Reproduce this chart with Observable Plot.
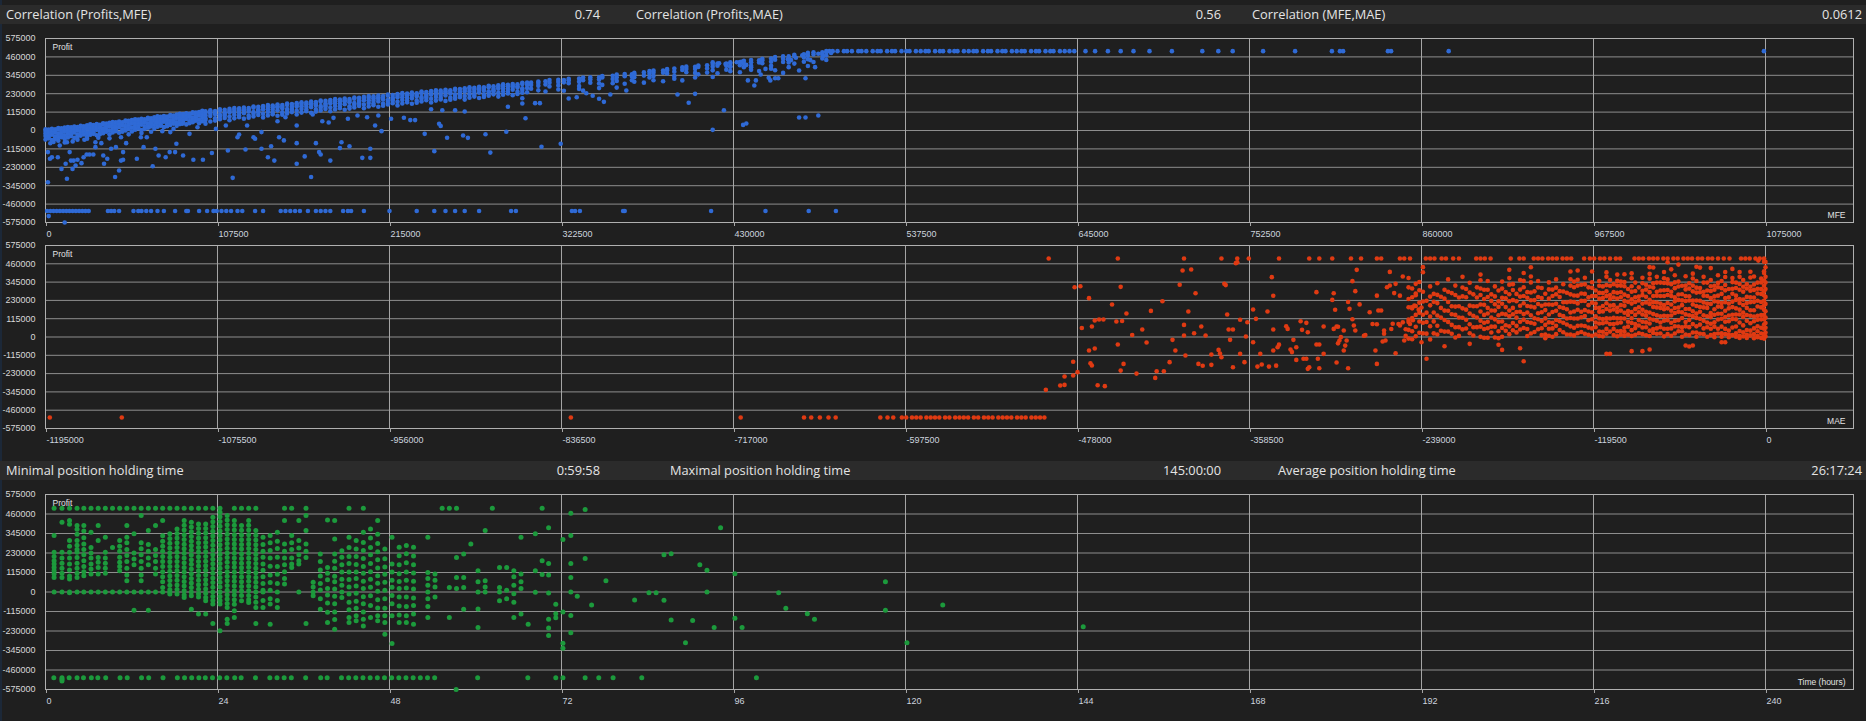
<!DOCTYPE html>
<html><head><meta charset="utf-8">
<script src="https://cdn.jsdelivr.net/npm/d3@7"></script>
<script src="https://cdn.jsdelivr.net/npm/@observablehq/plot@0.6"></script>
<style>
body{margin:0;background:#1f1f1f;}
#root{position:relative;width:1866px;height:721px;overflow:hidden;background:#1f1f1f;font-family:"Open Sans","Noto Sans",sans-serif;}
.bar{position:absolute;left:0;width:1866px;height:19px;background:#2b2b2b;color:#e4e4e4;font-size:12.8px;line-height:19px;}
.bar span{position:absolute;top:0;white-space:nowrap;}
.plot{position:absolute;left:0;}
.edge{position:absolute;left:0;top:0;width:2px;height:721px;background:#1c2838;}
</style></head><body><div id="root"></div>
<script>
// ---------- header texts ----------
const corrLabels = ["Correlation (Profits,MFE)", "Correlation (Profits,MAE)", "Correlation (MFE,MAE)"];
const corrValues = ["0.74", "0.56", "0.0612"];
const timeLabels = ["Minimal position holding time", "Maximal position holding time", "Average position holding time"];
const timeValues = ["0:59:58", "145:00:00", "26:17:24"];

// ---------- axis ticks ----------
const profitTicks = [-575000,-460000,-345000,-230000,-115000,0,115000,230000,345000,460000,575000];
const mfeTicks = [0,107500,215000,322500,430000,537500,645000,752500,860000,967500,1075000];
const maeTicks = [-1195000,-1075500,-956000,-836500,-717000,-597500,-478000,-358500,-239000,-119500,0];
const hourTicks = [0,24,48,72,96,120,144,168,192,216,240];

// ---------- Plot 1: MFE (thousands) vs Profit (thousands) ----------
// each column: [mfe, profit, profit, ...]
const mfeBandColumns = [
[0,8,-3,-18,-35,-57],[2,6,-5,-21,-38,-49],[4,10,-1,-9,-26,-60],[6,7,-4,-14,-39,-53],[8,15,7,-19,-30,-47],[10,13,-3,-12,-22,-38],
[12,18,7,-4,-30,-53],[14,22,11,-4,-21,-43],[16,20,9,-7,-24,-35],[18,24,13,5,-12,-46],[20,21,10,0,-25,-39],[22,30,22,-4,-15,-32],
[24,26,10,1,-9,-25],[26,33,22,11,-15,-38],[28,38,27,12,-5,-27],[30,34,23,7,-10,-21],[32,40,29,21,4,-30],[34,36,25,15,-10,-24],
[36,45,37,11,0,-17],[38,43,27,18,8,-8],[40,48,37,26,0,-23],[42,53,42,27,10,-12],[44,51,40,24,7,-4],[46,56,45,37,20,-14],
[48,52,41,31,6,-8],[50,62,54,28,17,0],[52,60,44,35,25,9],[54,65,54,43,17,-6],[56,70,59,44,27,5],[58,68,57,41,24,13],
[60,73,62,54,37,3],[62,70,59,49,24,10],[64,79,71,45,34,17],[66,77,61,52,42,26],[68,82,71,60,34,11],[70,88,77,62,45,23],
[72,85,74,58,41,30],[74,91,80,72,55,21],[76,87,76,66,41,27],[78,97,89,63,52,35],[80,94,78,69,59,43],[82,100,89,78,52,29],
[84,105,94,79,62,40],[86,103,92,76,59,48],[88,108,97,89,72,38],[90,105,94,84,59,45],[92,114,106,80,69,52],[94,112,96,87,77,61],
[96,116,105,94,68,45],[98,123,112,97,80,58],[100,120,109,93,76,65],[103,126,115,107,90,56],[106,122,111,101,76,62],[109,132,124,98,87,70],
[112,129,113,104,94,78],[115,135,124,113,87,64],[118,141,130,115,98,76],[121,138,127,111,94,83],[124,144,133,125,108,74],[127,140,129,119,94,80],
[130,150,142,116,105,88],[133,148,132,123,113,97],[136,153,142,131,105,82],[139,159,148,133,116,94],[142,156,145,129,112,101],[145,162,151,143,126,92],
[148,159,148,138,113,99],[151,168,160,134,123,106],[154,166,150,141,131,115],[157,171,160,149,123,100],[160,177,166,151,134,112],[163,175,164,148,131,120],
[166,181,170,162,145,111],[169,178,167,157,132,118],[172,187,179,153,142,125],[175,185,169,160,150,134],[178,191,180,169,143,120],[181,196,185,170,153,131],
[184,194,183,167,150,139],[187,200,189,181,164,130],[190,197,186,176,151,137],[193,206,198,172,161,144],[196,204,188,179,169,153],[199,210,199,188,162,139],
[202,215,204,189,172,150],[205,213,202,186,169,158],[208,218,207,199,182,148],[211,215,204,194,169,155],[214,225,217,191,180,163],[217,222,206,197,187,171],
[220,228,217,206,180,157],[223,234,223,208,191,169],[226,231,220,204,187,176],[229,237,226,218,201,167],[232,233,222,212,187,173],[235,243,235,209,198,181],
[238,240,224,215,205,189],[241,246,235,224,198,175],[244,252,241,226,209,187],[247,249,238,222,205,194],[250,255,244,236,219,185],[253,252,241,231,206,192],
[256,261,253,227,216,199],[259,259,243,234,224,208],[262,264,253,242,216,193],[265,270,259,244,227,205],[268,267,256,240,223,212],[271,273,262,254,237,203],
[274,270,259,249,224,210],[277,279,271,245,234,217],[280,277,261,252,242,226],[283,283,272,261,235,212],[286,288,277,262,245,223],[289,286,275,259,242,231],
[292,291,280,272,255,221],[295,288,277,267,242,228],[298,298,290,264,253,236],
[301,300,286,265,239],[303.5,299,285,261],[308,306,297,279,251],[312.5,308,288,244],[315,315,298,275],[320.5,317,303,282,256],
[324,315,301,248],[327,323,314,296],[333.5,324,304,278,260],[336,331,314,249],[340.5,333,319,298],[346,332,318,294,265],
[348,340,331,285],[354.5,342,322,296],[357,350,333,310,268],[362,353,339,292],[366.5,352,338,314],[368,360,351,333,305],
[374,363,343,299],[377.5,371,354,331],[380,375,361,340,314],[386,375,361,308],[388.5,384,375,357],[393,387,367,341,323],
[398,395,378,313],[400.5,399,385,364],[406,398,384,360,331],[408,406,397,351],[413.5,408,388,362],[417,416,399,376,334],
[420,419,405,358],[425.5,418,404,380],[428,426,417,399,371],[434,428,408,364],[436.5,436,419,396],[441,440,426,405,379],
[446,439,425,372],[448,448,439,421],[453.5,450,430,404,386],[456,459,442,377],[461,463,449,428],[464.5,463,449,425,396],
[468,473,464,418],[474,476,456,430],[476.5,485,468,445,403],[480,489,475,428],[485.5,488,474,450],[488,496,487,469,441]
];
const mfeScatter = [
[1.5,-135],[2.8,-177],[4,-167],[1.5,-323],[7.7,-167],[8.9,-94],[10,-42],[13.4,-73],[15.1,-135],[15.9,-188],[17.6,-188],[13.4,-302],
[10,-240],[12.6,-208],[16.9,-240],[18.8,-219],[20,-183],[22.5,-204],[23.8,-167],[25.7,-150],[27.5,-150],[29.9,-150],[24.3,-58],[28.2,-21],
[31.2,-73],[31.2,-104],[34.9,-79],[36.1,-156],[36.6,-208],[38.6,-177],[43.5,-291],[46,-250],[47.2,-188],[48.5,-183],[41,-114],[44,-104],
[48.5,-135],[50.4,-79],[47.2,-42],[57.1,-177],[61.3,-104],[63.3,-42],[67,-223],[68.7,-114],[70.7,-156],[75.1,-167],[77.6,-135],[81,-135],
[81.8,-83],[86,-156],[92.4,-183],[98.4,-183],[104,-141],[114,-125],[117,-296],[120,-42],[121,-25],[125,-119],[130,-42],[131,-52],
[135,-114],[139,-167],[141,-98],[143,-188],[146,-42],[149,-62],[157,-79],[157,-208],[162,-162],[166,-291],[169,-79],[171,-135],
[172,-150],[178,-188],[184,-110],[185,-73],[190,-98],[198,-171],[203,-171],[203,-114],[206,31],[210,-4],
[5,-72],[8,-64],[12,-75],[20,-58],[26,-51],[33,-45],[40,-49],[52,-24],[60,-16],[66,-8],[80,10],[95,20],[3,-80],[17,-68],
[36,-10],[43.5,21],[56,10],[59.6,-42],[64.5,21],[69.5,52],[73,-4],[78,-10],[85.5,42],[90,-21],[100,42],[106.5,10],
[112.7,31],[126,31],[135,-10],[145,58],[150,83],[157,31],[167,100],[173,58],[177,50],[180,79],[189,73],[195,94],[201,83],[208,94],
[216,73],[224,80],[228,65],[231,65],[237,-21],[241,133],[243,-129],[246,42],[247,28],[248,127],[251,-45],[256,127],[261,-31],[262,119],
[264,-46],[275,-23],[278,-138],[288,-8],[289,148],[300,77],[298,169],[298,202],[306,171],[309,171],[310,-102],[322,-83],[327,200],[332,208],
[338,233],[342,217],[346,198],[349,179],[353,225],[363,250],[395,225],[402,173],[406,229],[417,4],[424,127],[436,35],[438,44],[439,313],
[443,281],[444,313],[453,313],[456,327],[458,327],[471,81],[475,81],[483,94],
[417,427],[421,420],[425,415],[428,400],[432,427],[435,430],[438,410],[441,395],[447,350],[450,385],[452,330],[461,360],[464,445],[466,440],
[469,455],[471,375],[473,470],[475,327],[478,440],[481,396],[483,480],[486,465],[491,485],
[2,-535],[12,-575]
];
const mfeTopRow = [490,492,495,499,501,504,508,510,513,517,520,522,526,529,531,535,538,540,544,547,550,552,556,559,561,565,568,570,
574,577,580,582,586,589,591,595,598,600,604,607,610,612,616,619,621,625,628,630,634,637,640,643,650,656,664,672,680,690,704,
723,733,742,761,781,804,809,811,839,841,877,1074];
const mfeTopProfit = 496;
const mfeBottomRow = [1,3,5,7,9,11,13,15,17,19,21,23,25,27,39,41,43,46,55,58,60,63,66,70,74,81,88,89,96,101,105,107,110,113,116,
120,123,131,136,147,150,153,156,159,164,169,172,175,178,186,189,191,199,215,232,243,250,256,262,271,291,294,329,331,334,361,362,416,450,477,494];
const mfeBottomProfit = -503;

// ---------- Plot 2: MAE (thousands) vs Profit (thousands) ----------
const maeBottomRow = [-1192,-1142,-830,-712,-668,-663,-657,-651,-646,-615,-610,-606,-600,-597,-593,-590,-587,-583,-580,-577,-574,-570,
-567,-563,-560,-557,-554,-550,-547,-543,-540,-537,-533,-530,-527,-524,-520,-517,-514,-510,-507,-504,-501];
const maeBottomProfit = -506;
const maeTopRow = [-498,-450,-404,-378,-367,-359,-338,-317,-310,-301,-288,-281,-270,-267,-254,-251,-247,-236,-233,-230,-225,-222,-217,-213,
-201,-198,-195,-191,-177,-171,-168,-161,-158,-155,-151,-148,-145,-141,-138,-135,-126,-122,-119,-115,-112,-108,-104,-101,-91,-88,-85,-81,
-78,-75,-71,-68,-64,-61,-57,-54,-51,-47,-44,-40,-37,-33,-29,-25,-17,-14,-11,-7,-4,-1];
const maeTopProfit = 493;
const maeScatter = [
[-500,-332],[-490,-305],[-487,-301],[-487,-248],[-481,-242],[-478,-221],[-481,-156],[-470,-85],[-469,-165],[-468,-179],[-466,-72],[-464,-303],[-459,-309],
[-480,313],[-476,319],[-470,244],[-475,57],[-468,66],[-466,104],[-463,110],[-460,110],[-454,204],[-451,97],[-447,101],[-444,148],[-450,-47],
[-448,-211],[-446,-169],[-448,315],[-440,13],[-437,-230],[-433,47],[-430,-35],[-427,164],[-424,-257],[-423,-215],[-418,-215],[-419,225],[-414,-158],
[-412,-18],[-410,-85],[-407,328],[-405,418],[-399,424],[-404,76],[-404,9],[-403,-116],[-401,160],[-397,24],[-396,275],[-394,-169],[-391,-181],
[-392,66],[-389,9],[-385,-110],[-385,-175],[-380,-81],[-379,-104],[-378,-127],[-376,334],[-375,326],[-374,141],[-373,47],[-370,47],[-372,-18],
[-370,-190],[-368,464],[-365,108],[-365,-106],[-362,-158],[-361,3],[-360,93],[-356,173],[-354,114],[-356,-33],[-353,-186],[-350,-173],[-351,-106],
[-346,160],[-345,-186],[-340,-180],[-343,376],[-342,259],[-342,47],[-342,-85],[-339,-64],[-338,-48],[-333,68],[-332,51],[-330,-79],[-329,-95],
[-328,-18],[-326,-64],[-326,-144],[-323,99],[-319,89],[-322,45],[-318,30],[-321,-137],[-319,-137],[-318,-200],[-317,-190],[-312,282],[-312,-47],
[-310,-47],[-311,-137],[-310,-196],[-307,66],[-307,-106],[-301,233],[-300,275],[-300,51],[-299,171],[-298,66],[-297,64],[-298,-160],[-297,-40],
[-296,-22],[-295,-1],[-293,41],[-293,-85],[-292,-54],[-291,-22],[-290,220],[-290,-196],[-289,177],[-287,351],[-285,288],[-284,422],[-287,112],
[-286,72],[-285,41],[-282,205],[-279,8],[-278,12],[-275,156],[-273,82],[-270,80],[-271,-85],[-270,-169],[-270,260],[-269,167],[-267,167],
[-265,41],[-265,20],[-266,-28],[-264,-22],[-263,313],[-261,324],[-261,409],[-260,50],[-259,83],[-258,276],[-257,334],[-257,-102],[-255,82],
[-254,260],[-254,72],[-252,380],[-252,92],[-251,-22],[-250,7],[-250,49],[-248,95],[-247,82],[-246,187],[-245,105],[-244,197],[-243,334],
[-243,273],[-241,172],[-239,185],[-238,439],[-238,407],[-239,-33],[-367,470],[-5,480],[-1,473],
[-235.5,-137],[-223,-58],[-205.5,-43],[-185.5,-49],[-183,-81],[-170.5,-71],[-168,-152],[-110.5,-106],[-108,-106],[-93,-89],[-85.5,-89],
[-80.5,-79],[-68,470],[-65.5,425],[-60.5,455],[-55.5,-53],[-53,-60],[-50.5,-53],[-48,441],[-45.5,436],[-38,433],[-30.5,-33],[-28,-33]
];
// each column: [mae, profit, profit, ...]
const maeCloudColumns = [
[-248,371,312,239,187,109,45,-10],[-245.5,305,250,180,119,36,-14],[-243,262,195,139,64,5],[-240.5,346,294,216,152,97,27],
[-238,284,223,140,90,23],[-235.5,228,153,94,21],[-233,318,254,199,129,68,-15],[-230.5,271,221,154,98,23],
[-228,338,265,213,135,71,16],[-225.5,253,183,122,39],[-223,297,241,166,107,34],[-220.5,362,284,220,165,95,34],
[-218,276,193,143,76,20],[-215.5,323,264,191,139,61,-3],[-213,248,193,123,62,7],[-210.5,378,311,255,180,121,48],
[-208,302,250,172,108,53],[-205.5,341,280,197,147,80,24],[-203,268,193,134,61,9],[-200.5,312,248,193,123,62],
[-198,392,357,305,264,204,160,102,65,2],[-195.5,297,239,202,139,90,50,-5],[-193,352,297,251,183,148,96,55,-5],[-190.5,268,227,167,123,65,28],
[-188,318,255,206,166,111,65,-3],[-185.5,292,224,189,137,96,36,-8],[-183,348,304,246,209,146,97,57,2],[-180.5,283,243,188,142,74,39],
[-178,422,370,329,269,225,167,130,67,18],[-175.5,332,295,232,183,143,88,42],[-173,271,225,157,122,70,29],[-170.5,358,298,254,196,159,96,47],
[-168,402,353,313,258,212,144,109,57],[-165.5,282,247,195,154,94,50,6],[-163,438,380,343,280,231,191,136,90,22],[-160.5,287,232,186,118,83,31],
[-158,352,311,251,207,149,112,49],[-155.5,308,245,196,156,101,55,12],[-153,272,204,169,117,76,16,-8],[-150.5,343,299,241,204,141,92,52,8],
[-148,298,258,203,157,89,54,2],[-145.5,362,310,269,209,165,107,70,18],[-143,288,251,188,139,99,44],[-140.5,332,286,218,183,131,90,30],
[-138,278,218,174,116,79,16],[-135.5,412,363,323,268,222,154,119,67,15],[-133,348,313,261,220,160,116,58,10],[-130.5,418,360,323,260,211,171,116,70,24],
[-128,328,273,227,159,124,72,31],[-125.5,372,331,271,227,169,132,69,20],[-123,312,249,200,160,105,59,14],[-120.5,412,344,309,257,216,156,112,54,8],
[-118,292,258,210,183,130,91,61,16],[-115.5,352,322,277,241,183,158,116,85,35,6],[-113,318,276,245,195,161,113,86,33,4],
[-110.5,406,379,326,287,257,212,176,118,93,51,20],[-108,358,322,264,239,197,166,116,82,34],[-105.5,332,282,248,200,173,120,81,51,12],
[-103,392,353,323,278,242,184,159,117,86,36,5],[-100.5,348,323,281,250,200,166,118,91,38,14],[-98,394,346,319,266,227,197,152,116,58,33,8],
[-95.5,302,257,221,163,138,96,65,15],[-93,400,369,319,285,237,210,157,118,88,43,7],[-90.5,342,289,250,220,175,139,81,56,14],
[-88,312,254,229,187,156,106,72,24],[-85.5,372,338,290,263,210,171,141,96,60,18],[-83,328,298,253,217,159,134,92,61,11],
[-80.5,439,397,366,316,282,234,207,154,115,85,40,6],[-78,437,338,311,258,219,189,144,108,50,25],[-75.5,378,342,284,259,217,186,136,102,54,20],
[-73,342,292,258,210,183,130,91,61,22],[-70.5,408,369,339,294,258,200,175,133,102,52,4],[-68,362,337,295,264,214,180,132,105,52,18],
[-65.5,332,284,257,204,165,135,90,54,8],[-63,388,343,307,249,224,182,151,101,67,22],[-60.5,348,317,267,233,185,158,105,66,36],
[-58,322,269,230,200,155,119,61,36,2],[-55.5,382,324,299,257,226,176,142,94,67,15],[-53,338,304,256,229,176,137,107,62,12],
[-50.5,398,368,323,287,229,204,162,131,81,28],[-48,352,310,279,229,195,147,120,67,28,2],[-45.5,308,281,228,189,159,114,78,20],
[-43,378,342,284,259,217,186,136,102,54,18],[-40.5,342,292,258,210,183,130,91,61,2],[-38,358,319,289,244,208,150,125,83,52,12],
[-35.5,322,297,255,224,174,140,92,65,18,-2],[-33,388,340,313,260,221,191,146,110,52,22],[-30.5,352,307,271,213,188,146,115,65,24,2],
[-28,408,377,327,293,245,218,165,126,96,51,18],[-25.5,302,249,210,180,135,99,41,16,-2],[-23,428,370,345,303,272,222,188,140,113,60,12],
[-20.5,342,308,260,233,180,141,111,66,24,2],[-18,408,378,333,297,239,214,172,141,91,38,8,-6],[-15.5,358,316,285,235,201,153,126,73,30,4],
[-13,332,305,252,213,183,138,102,44,14,-6],[-10.5,410,374,316,291,249,218,168,134,86,40,10],[-8,380,330,296,248,221,168,129,99,54,18,-8],
[-5.5,342,303,273,228,192,134,109,67,36,6,-2],[-3,368,343,301,270,220,186,138,111,58,22,-6],
[-1,413,402,355,322,288,262,228,198,172,138,112,78,52,18,2,-10],[0,472,438,378,342,302,252,208,162,122,88,58,28,4]
];

// ---------- Plot 3: holding time (hours) vs Profit (thousands) ----------
// each column: [hours, profit, profit, ...]
const holdColumns = [
[1.2,494,333,234,210,185,165,145,126,106,86,0],
[2.3,494,411,234,200,170,140,110,86,0],
[3.35,494,421,400,303,270,234,200,165,130,95,76,0,-5],
[4.4,494,392,370,340,303,275,250,234,204,170,140,110,86,0],
[5.35,494,392,360,320,283,250,220,185,150,120,96,0],
[6.35,494,352,263,230,200,165,135,106,0],
[7.35,494,392,303,204,175,145,106,0],
[8.35,494,323,234,200,170,140,110,0],
[9.35,494,263,0],
[10.35,494,303,270,240,205,175,150,126,0],
[11.35,494,392,323,290,250,215,180,140,100,66,0],
[12.35,494,343,230,195,160,0,-107],
[13.35,494,451,290,255,220,180,140,100,66,0],
[14.35,494,362,280,240,200,160,0,-107],
[15.35,494,392,250,215,180,140,106,0],
[16.35,494,421,332,300,270,240,210,180,150,120,90,60,27,0],
[17.35,494,343,315,288,260,232,205,178,150,122,95,68,40,14,-12,0],
[18.35,494,372,345,318,290,262,235,208,180,152,125,98,70,42,15,-12],
[19.35,494,421,393,366,338,310,282,255,228,200,172,145,118,90,62,35,8,-18,-32],
[20.35,494,411,384,356,328,300,273,246,218,190,163,136,108,80,53,26,0,-22,-101],
[21.35,494,401,374,346,318,290,263,236,208,180,153,126,98,70,43,16,-10,-30,-130],
[22.35,494,401,374,348,320,292,265,238,210,182,155,128,100,72,45,18,-8,-32,-52,-130],
[23.35,494,441,414,386,358,330,303,276,248,220,193,166,138,110,83,56,28,0,-26,-50,-71,-186],
[24.35,494,471,444,416,388,360,333,306,278,250,223,196,168,140,113,86,58,30,0,-26,-50,-71,-229],
[25.35,451,424,396,368,340,313,286,258,230,203,176,148,120,93,66,38,10,-16,-42,-68,-91,-160,-186],
[26.35,494,421,394,366,338,310,283,256,228,200,173,146,118,90,63,36,8,-18,-45,-72,-111,-150],
[27.35,494,392,364,336,308,280,253,226,198,170,143,116,88,60,33,6,-20,-52],
[28.35,494,421,394,366,338,310,283,256,228,200,173,146,118,90,63,36,8,-20,-45,-62],
[29.35,494,362,334,306,278,250,223,196,168,140,113,86,58,30,0,-30,-60,-91,-186],
[30.35,323,280,240,205,165,128,90,50,10,0,-50,-91],
[31.35,333,290,245,200,152,100,56,10,-40,-71,-190],
[32.35,352,300,256,205,150,104,50,0,-50,-91],
[33.35,494,421,283,240,200,160,120,80,47],
[34.35,494,333,290,250,200,165,145],
[35.35,421,303,260,220,185,165,0],
[36.35,494,451,362,283,240,204,-186],
[37.35,57,30,0,-22],
[38.35,224,180,130,95,50,12,-40,-101],
[39.35,425,145,110,72,20,-18,-65,-120,-180],
[40.35,421,313,224,182,140,93,60,18,-25,-70,-118,-162,-219],
[41.35,244,205,160,118,75,40,0,-32],
[42.35,494,323,262,210,168,118,74,30,-12,-60,-104,-150,-180],
[43.35,303,254,210,162,118,80,35,-8,-55,-96,-140,-170],
[44.35,494,352,292,245,198,150,110,64,20,-28,-70,-118,-160,-200],
[45.35,372,318,262,220,168,120,75,28,-22,-80,-150],
[46.35,421,340,286,238,190,142,96,52,4,-46,-94,-140,-170],
[47.35,254,196,148,104,58,10,-40,-96,-140,-180,-249],
[48.35,323,165,118,70,28,-20,-70,-140,-304],
[49.35,264,214,160,108,62,20,-30,-82,-136,-180],
[50.35,274,226,172,118,70,24,-30,-86,-140,-180],
[51.35,264,212,160,112,64,18,-36,-80,-130,-190],
[53.35,323,115,80,40,0,-40,-85,-150],
[54.35,106,70,30,-30],
[55.35,494],
[56.35,494,27,-150],
[57.35,494,204,86,20],
[58.35,224,86,27,-101],
[59.35,283],
[60.35,126,60,0,-100,-209],
[61.35,362,66,30,0],
[62.35,494],
[63.35,145,27,0,-52],
[64.35,145,10,-40],
[65.35,126,90,40,-10,-60,-150],
[66.35,323,106,60,20,-130],
[67.35,-190],
[68.35,343,126,-2]
];
const holdScatter = [
[69.3,494],[69.3,184],[69.3,103],[70.2,379],[70.2,168],[70.2,100],[70.2,-6],[70.2,-160],[70.2,-213],[70.2,-257],
[71.2,-72],[71.2,-128],[71.2,-152],[72.2,310],[72.2,-118],[72.2,-302],[72.2,-332],[73.3,464],[73.3,333],[73.3,168],
[73.3,85],[73.3,0],[73.3,-138],[73.3,-241],[74.2,-25],[75.3,486],[75.3,198],[76.2,-77],[78.2,67],[82.2,-47],
[84.2,-4],[85.2,-4],[86.3,219],[86.3,-49],[87.3,225],[87.3,-165],[89.3,-300],[90.3,-168],[91.3,160],[92.3,129],
[92.3,0],[93.3,-210],[94.2,379],[96.2,107],[96.2,-155],[97.2,-210],[102.3,-4],[103.3,-96],[106.3,-128],[107.3,-160],
[117.2,60],[117.2,-108],[120.2,-300],[125.2,-77],[144.8,-205],[57.3,-575],[2.3,-525],[2.3,-515]
];
const holdBottomRow = [1.16,2.3,3.3,4.4,5.3,6.4,7.3,8.4,10.4,11.4,13.4,14.4,16.4,18.4,19.4,20.4,21.4,22.3,23.3,24.3,25.3,26.4,27.3,
29.3,31.3,32.3,33.3,34.3,36.3,38.4,39.3,41.3,42.3,43.3,44.3,45.3,46.3,47.3,48.3,49.3,50.3,51.3,52.3,53.3,54.3,60.3,67.3,
71.2,72.2,75.3,77.2,79.2,83.2,99.2];
const holdBottomProfit = -505;

// ---------- build tables ----------
const K = 1000;
function fromColumns(cols, xs) { const out = []; for (const c of cols) for (let i = 1; i < c.length; i++) out.push({x: c[0]*xs, y: c[i]*K}); return out; }
function fromPairs(p, xs) { return p.map(d => ({x: d[0]*xs, y: d[1]*K})); }
function fromRow(r, yv, xs) { return r.map(v => ({x: v*xs, y: yv*K})); }

const mfePts = [...fromColumns(mfeBandColumns, K), ...fromPairs(mfeScatter, K), ...fromRow(mfeTopRow, mfeTopProfit, K), ...fromRow(mfeBottomRow, mfeBottomProfit, K)];
const maePts = [...fromRow(maeBottomRow, maeBottomProfit, K), ...fromRow(maeTopRow, maeTopProfit, K), ...fromPairs(maeScatter, K), ...fromColumns(maeCloudColumns, K)];
const holdPts = [...fromColumns(holdColumns, 1), ...fromPairs(holdScatter, 1), ...fromRow(holdBottomRow, holdBottomProfit, 1)];

const root = document.getElementById("root");
const edge = document.createElement("div"); edge.className = "edge"; root.appendChild(edge);

function bar(top, labels, values, labelX, valueRight) {
  const d = document.createElement("div");
  d.className = "bar"; d.style.top = top + "px";
  labels.forEach((t, i) => { const s = document.createElement("span"); s.textContent = t; s.style.left = labelX[i] + "px"; d.appendChild(s); });
  values.forEach((t, i) => { const s = document.createElement("span"); s.textContent = t; s.style.right = (1866 - valueRight[i]) + "px"; d.appendChild(s); });
  root.appendChild(d);
}
bar(5, corrLabels, corrValues, [6, 636, 1252], [600, 1221, 1862]);
bar(461, timeLabels, timeValues, [6, 670, 1278], [600, 1221, 1862]);

function scatter({top, height, mt, mb, xDomain, xTicks, xLabel, pts, color, r}) {
  const chart = Plot.plot({
    width: 1866, height, marginLeft: 45, marginRight: 13, marginTop: mt, marginBottom: mb,
    style: {background: "transparent", color: "#d4d8de", fontFamily: "'Liberation Sans', Arial, sans-serif", fontSize: "9px"},
    x: {domain: xDomain, label: null},
    y: {domain: [-575000, 575000], label: null},
    marks: [
      Plot.ruleY(profitTicks, {stroke: "#8e8e8e", strokeWidth: 1}),
      Plot.ruleX(xTicks, {stroke: "#a6a6a6", strokeWidth: 1}),
      Plot.frame({stroke: "#b0b0b0"}),
      Plot.axisX({ticks: xTicks, tickFormat: d => String(d), tickSize: 4, tickPadding: 4, textAnchor: "start", dx: 1, stroke: "#a6a6a6", fill: "#ccd4de", label: null}),
      Plot.axisY({ticks: profitTicks, tickFormat: d => String(d), tickSize: 0, tickPadding: 10, fill: "#d8d8d8", label: null}),
      Plot.text(["Profit"], {frameAnchor: "top-left", dx: 7, dy: 5, fill: "#e2e2e2", fontSize: 8.5}),
      Plot.text([xLabel], {frameAnchor: "bottom-right", dx: -8, dy: -5, fill: "#e2e2e2", fontSize: 8.5}),
      Plot.dot(pts, {x: "x", y: "y", r, fill: color, stroke: null})
    ]
  });
  chart.classList.add("plot");
  chart.style.top = top + "px";
  root.appendChild(chart);
}

scatter({top: 24, height: 226, mt: 14, mb: 28, xDomain: [0, 1130000], xTicks: mfeTicks, xLabel: "MFE", pts: mfePts, color: "#2f6ad6", r: 2.3});
scatter({top: 236, height: 216, mt: 9, mb: 24, xDomain: [-1195000, 61140], xTicks: maeTicks, xLabel: "MAE", pts: maePts, color: "#e03a12", r: 2.3});
scatter({top: 482, height: 239, mt: 12, mb: 32, xDomain: [0, 252.28], xTicks: hourTicks, xLabel: "Time (hours)", pts: holdPts, color: "#1c9a3c", r: 2.5});
</script></body></html>
